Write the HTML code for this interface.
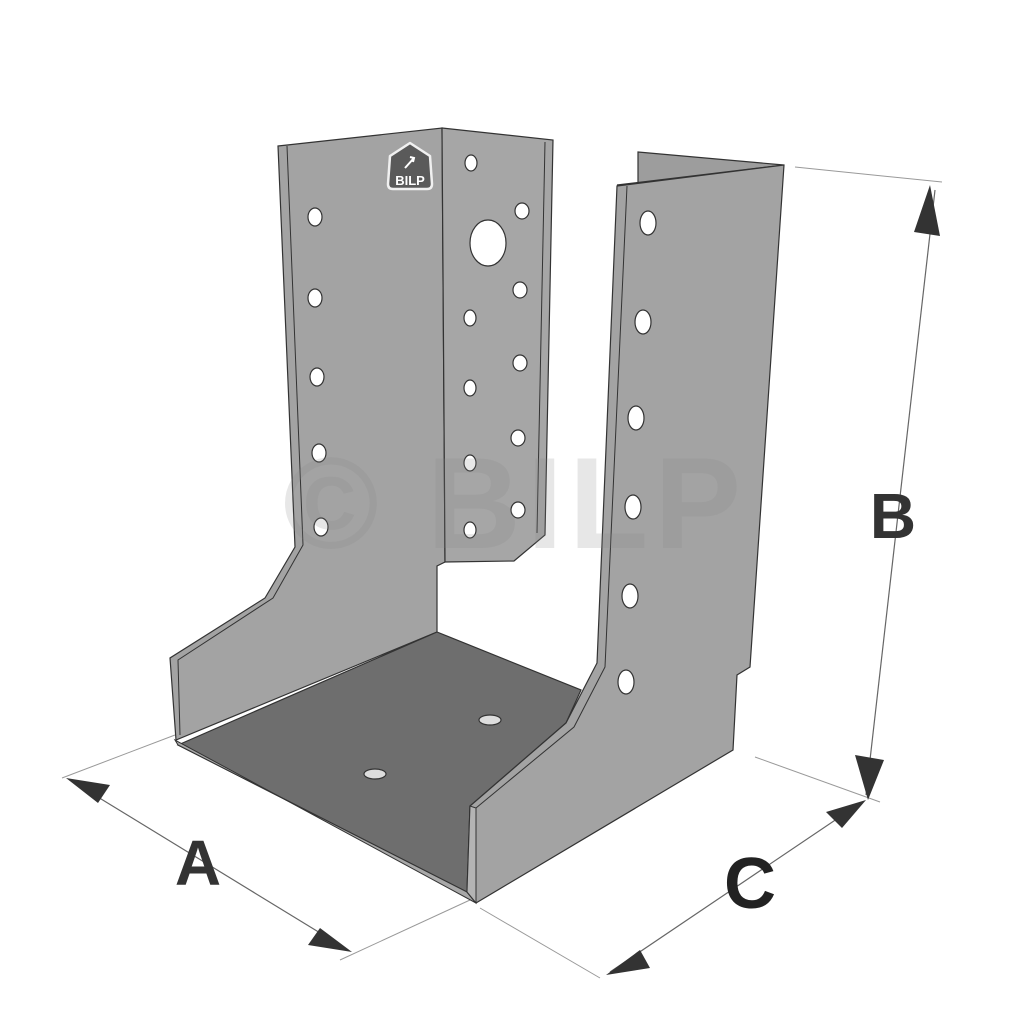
<!DOCTYPE html>
<html><head><meta charset="utf-8"><style>
html,body{margin:0;padding:0;background:#fff;}
svg{display:block;}
</style></head><body>
<svg width="1024" height="1024" viewBox="0 0 1024 1024" xmlns="http://www.w3.org/2000/svg" font-family="Liberation Sans, sans-serif">
<rect width="1024" height="1024" fill="#fff"/>
<g stroke="#999" stroke-width="1" fill="none">
<line x1="795" y1="167" x2="942" y2="182"/>
<line x1="755" y1="757" x2="880" y2="802"/>
<line x1="62" y1="778" x2="175" y2="735"/>
<line x1="340" y1="960" x2="470" y2="900"/>
<line x1="480" y1="908" x2="600" y2="978"/>
</g>
<g stroke="#666" stroke-width="1.2">
<line x1="935" y1="190" x2="866" y2="795"/>
<line x1="70" y1="780" x2="348" y2="950"/>
<line x1="862" y1="802" x2="610" y2="972"/>
</g>
<g fill="#333">
<polygon points="930,185 914,232 940,236"/>
<polygon points="868,800 855,755 884,760"/>
<polygon points="66,778 110,785 98,803"/>
<polygon points="352,952 308,945 320,928"/>
<polygon points="866,800 826,812 842,828"/>
<polygon points="606,975 640,950 650,968"/>
</g>
<!-- left back wall -->
<polygon points="278,146 442,128 445,562 437,566 437,632 176,740 170,658 265,598 295,547" fill="#a3a3a3" stroke="#333" stroke-width="1.2"/>
<polyline points="287,146 303,545 273,598 178,660 180,735" fill="none" stroke="#333" stroke-width="1"/>
<!-- back flap -->
<polygon points="442,128 553,140 545,535 514,561 445,562" fill="#a6a6a6" stroke="#333" stroke-width="1.2"/>
<line x1="545" y1="142" x2="537" y2="533" stroke="#333" stroke-width="1"/>
<!-- right wall back strip -->
<polygon points="638,152 784,165 617,185 638,185" fill="#9d9d9d" stroke="#333" stroke-width="1.2"/>
<!-- floor -->
<polygon points="437,632 581,690 566,723 470,806 467,892 178,745" fill="#6e6e6e" stroke="#333" stroke-width="1.2"/>
<polygon points="178,745 467,892 476,903 175,740" fill="#a8a8a8" stroke="#333" stroke-width="1"/>
<!-- right wall -->
<polygon points="617,186 784,165 750,667 737,675 733,750 476,903 467,892 470,806 566,723 597,663" fill="#a3a3a3" stroke="#333" stroke-width="1.2"/>
<polyline points="627,186 605,667 574,727 476,808 476,903" fill="none" stroke="#333" stroke-width="1"/>
<polygon points="467,892 470,806 476,808 476,903" fill="#b4b4b4" stroke="#333" stroke-width="1"/>
<!-- holes -->
<g fill="#fff" stroke="#333" stroke-width="1.2">
<ellipse cx="315" cy="217" rx="7" ry="9"/><ellipse cx="315" cy="298" rx="7" ry="9"/><ellipse cx="317" cy="377" rx="7" ry="9"/><ellipse cx="319" cy="453" rx="7" ry="9"/><ellipse cx="321" cy="527" rx="7" ry="9"/>
<ellipse cx="471" cy="163" rx="6" ry="8"/><ellipse cx="522" cy="211" rx="7" ry="8"/><ellipse cx="520" cy="290" rx="7" ry="8"/><ellipse cx="470" cy="318" rx="6" ry="8"/><ellipse cx="520" cy="363" rx="7" ry="8"/><ellipse cx="470" cy="388" rx="6" ry="8"/><ellipse cx="518" cy="438" rx="7" ry="8"/><ellipse cx="470" cy="463" rx="6" ry="8"/><ellipse cx="518" cy="510" rx="7" ry="8"/><ellipse cx="470" cy="530" rx="6" ry="8"/>
<ellipse cx="488" cy="243" rx="18" ry="23"/>
<ellipse cx="648" cy="223" rx="8" ry="12"/><ellipse cx="643" cy="322" rx="8" ry="12"/><ellipse cx="636" cy="418" rx="8" ry="12"/><ellipse cx="633" cy="507" rx="8" ry="12"/><ellipse cx="630" cy="596" rx="8" ry="12"/><ellipse cx="626" cy="682" rx="8" ry="12"/>
<ellipse cx="375" cy="774" rx="11" ry="5" fill="#ddd"/><ellipse cx="490" cy="720" rx="11" ry="5" fill="#ddd"/>
</g>
<!-- logo -->
<g>
<path d="M390,156 L410,143 L430,156 L432,184 Q432,189 427,189 L393,189 Q388,189 388,184 Z" fill="#5a5a5a" stroke="#f0f0f0" stroke-width="2.5" stroke-linejoin="round"/>
<text x="410" y="185" font-size="13" font-weight="bold" fill="#fff" text-anchor="middle">BILP</text>
<path d="M405,168 L414,158 M410,157 L414,158 L413,162" stroke="#fff" stroke-width="2" fill="none"/>
</g>
<!-- watermark -->
<text x="515" y="548" font-size="130" font-weight="bold" fill="#888" fill-opacity="0.2" text-anchor="middle" letter-spacing="6">© BILP</text>
<!-- labels -->
<text x="198" y="885" font-size="64" font-weight="bold" fill="#333" text-anchor="middle">A</text>
<text x="893" y="538" font-size="64" font-weight="bold" fill="#333" text-anchor="middle">B</text>
<text x="750" y="908" font-size="72" font-weight="bold" fill="#222" text-anchor="middle">C</text>
</svg>
</body></html>
